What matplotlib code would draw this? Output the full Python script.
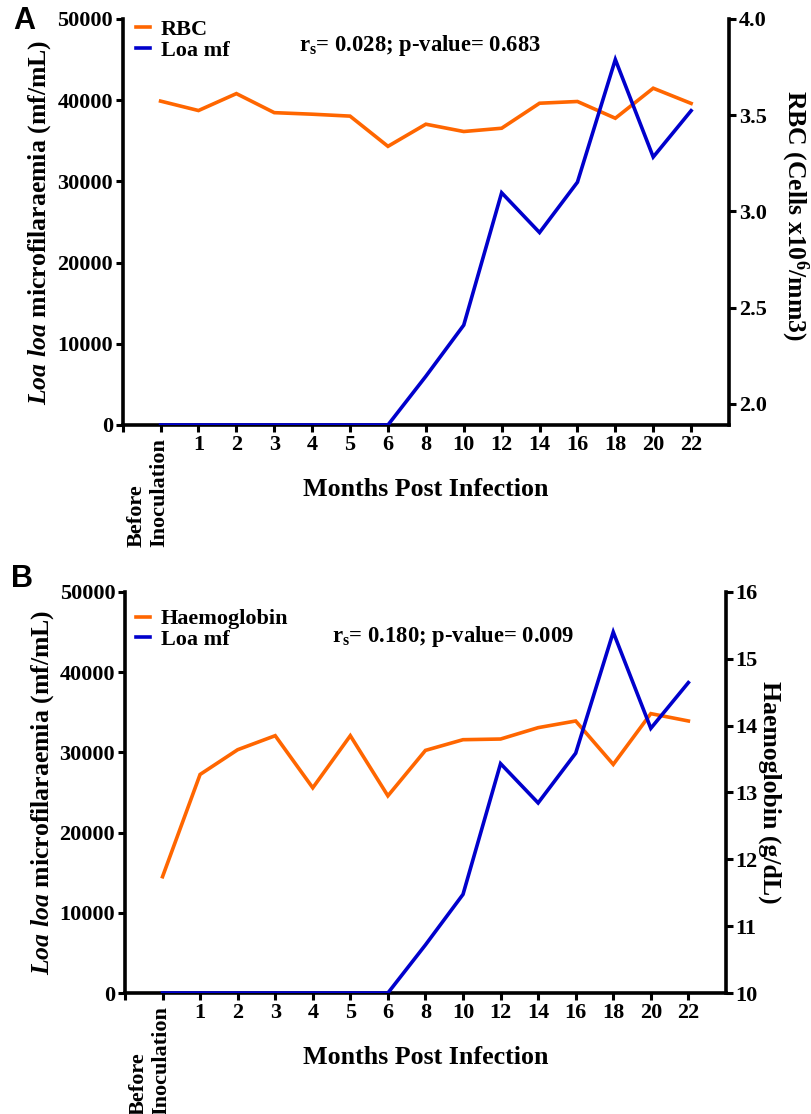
import matplotlib
matplotlib.use("Agg")
import matplotlib.pyplot as plt
from matplotlib.lines import Line2D

# ---------------- data ----------------
months = ["Before\nInoculation", "1", "2", "3", "4", "5", "6", "8", "10",
          "12", "14", "16", "18", "20", "22"]
loa_mf = [0, 0, 0, 0, 0, 0, 0, 6000, 12300, 28600, 23700, 29900, 45000, 33000, 38700]
rbc = [3.573, 3.524, 3.612, 3.513, 3.505, 3.495, 3.338, 3.453, 3.415, 3.432,
       3.562, 3.571, 3.484, 3.640, 3.561]
haemoglobin = [11.74, 13.27, 13.64, 13.85, 13.07, 13.85, 12.95, 13.63, 13.79,
               13.80, 13.97, 14.07, 13.42, 14.18, 14.07]
left_ticks = [0, 10000, 20000, 30000, 40000, 50000]
rbc_ticks = [2.0, 2.5, 3.0, 3.5, 4.0]
hb_ticks = [10, 11, 12, 13, 14, 15, 16]

ORANGE = "#FF6600"
BLUE = "#0000CC"

plt.rcParams["font.family"] = ["Liberation Serif", "DejaVu Serif"]
plt.rcParams["font.weight"] = "bold"
plt.rcParams["mathtext.fontset"] = "custom"
plt.rcParams["mathtext.rm"] = "Liberation Serif:bold"
plt.rcParams["mathtext.it"] = "Liberation Serif:bold:italic"
plt.rcParams["mathtext.bf"] = "Liberation Serif:bold"

fig = plt.figure(figsize=(8.12, 11.14), dpi=100)

TICK_FS = 16
LAB_FS = 18.5
XLAB_FS = 18.7
LEG_FS = 16
ANN_FS = 16.3


def panel(rect, right_vals, right_ticks, right_lim, right_fmt, right_label,
          right_label_xy, leg_name, annot, annot_xy, leg_anchor):
    ax = fig.add_axes(rect)
    ax2 = ax.twinx()
    x = list(range(len(months)))
    ax.plot(x, loa_mf, color=BLUE, lw=2.6, solid_joinstyle="miter", zorder=3)
    ax2.plot(x, right_vals, color=ORANGE, lw=2.6, solid_joinstyle="miter")
    ax.set_zorder(ax2.get_zorder() + 1)
    ax.patch.set_visible(False)

    ax.set_xlim(-1, 15)
    ax.set_ylim(0, 50000)
    ax2.set_ylim(*right_lim)

    ax.set_xticks([-1] + x)
    ax.set_xticklabels([""] + [""] + months[1:])
    ax.set_yticks(left_ticks)
    ax.set_yticklabels([str(v) for v in left_ticks])
    ax2.set_yticks(right_ticks)
    ax2.set_yticklabels([right_fmt.format(v) for v in right_ticks])

    for a in (ax, ax2):
        for s in a.spines.values():
            s.set_linewidth(2.6)
        a.spines["top"].set_visible(False)
        a.tick_params(direction="out", length=5, width=2.2, labelsize=TICK_FS, pad=2)
    ax.spines["right"].set_visible(False)
    ax2.spines["left"].set_visible(False)
    ax2.spines["bottom"].set_visible(False)

    # Before / Inoculation rotated label
    ax.text(-0.33, -0.033, months[0], transform=ax.get_xaxis_transform(),
            rotation=90, ha="center", va="top", multialignment="left",
            fontsize=TICK_FS, fontweight="bold")

    ax.set_xlabel("Months Post Infection", fontsize=XLAB_FS, fontweight="bold",
                  labelpad=17)
    ax.set_ylabel(r"$\mathit{Loa\ loa}$ microfilaraemia (mf/mL)",
                  fontsize=LAB_FS, fontweight="bold")
    ax.yaxis.set_label_coords(-0.115, 0.5)
    ax2.set_ylabel(right_label, fontsize=LAB_FS, fontweight="bold",
                   rotation=270, va="center")
    ax2.yaxis.set_label_coords(*right_label_xy)

    handles = [Line2D([0], [0], color=ORANGE, lw=2.6),
               Line2D([0], [0], color=BLUE, lw=2.6)]
    ax.legend(handles, [leg_name, "Loa mf"], loc="upper left",
              bbox_to_anchor=leg_anchor, frameon=False,
              handlelength=0.6, handletextpad=0.5, labelspacing=0.0,
              borderaxespad=0.0, prop={"weight": "bold", "size": LEG_FS})
    ax.text(annot_xy[0], annot_xy[1], annot, transform=ax.transAxes,
            ha="left", va="center", fontsize=ANN_FS, fontweight="bold")
    return ax, ax2


panel([0.1511, 0.6185, 0.7467, 0.3645], rbc, rbc_ticks, (1.89, 4.0), "{:.1f}",
      r"RBC (Cells x10$^{\mathrm{6}}$/mm3)", (1.108, 0.515), "RBC",
      r"r$_{\mathrm{s}}$= 0.028; p-value= 0.683", (0.29, 0.935), (0.008, 1.02))
panel([0.1539, 0.1086, 0.7401, 0.36], haemoglobin, hb_ticks, (10, 16), "{:d}",
      "Haemoglobin (g/dL)", (1.073, 0.5), "Haemoglobin",
      r"r$_{\mathrm{s}}$= 0.180; p-value= 0.009", (0.345, 0.89), (0.004, 0.98))

fig.text(24 / 812, 1 - 21 / 1114, "A", ha="center", va="center",
         fontsize=22, fontweight="bold", family="Liberation Sans")
fig.text(22 / 812, 1 - 579 / 1114, "B", ha="center", va="center",
         fontsize=22, fontweight="bold", family="Liberation Sans")

fig.savefig("out.png", dpi=100)
